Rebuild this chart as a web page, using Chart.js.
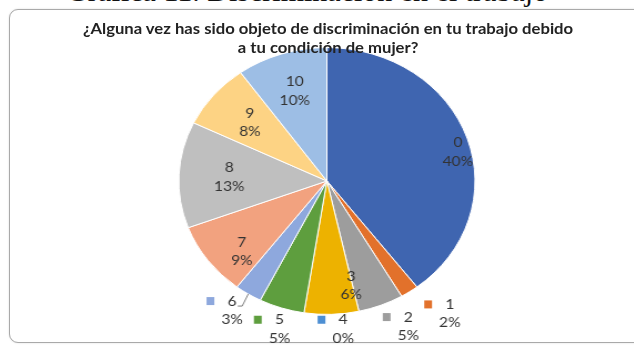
<!DOCTYPE html>
<html lang="es">
<head>
<meta charset="utf-8">
<title>Discriminación en el trabajo</title>
<script src="https://cdn.jsdelivr.net/npm/chart.js@4.4.1/dist/chart.umd.min.js"></script>
<style>
  html, body { margin: 0; padding: 0; background: #fff; overflow: hidden; }
  body { width: 634px; height: 345px; position: relative; }
  #heading {
    position: absolute; left: 66px; top: -24.5px;
    font: 30px "Liberation Serif", serif; line-height: 30px; color: #111;
    white-space: nowrap;
  }
  #frame {
    position: absolute; left: 9px; top: 9px; right: -20px; bottom: 2px;
    border: 1px solid #a9a9a9; border-radius: 9px;
    box-shadow: 0 0 2px rgba(0,0,0,0.15);
    background: #fff;
  }
  /* the whole chart is drawn a bit wider than tall */
  #stage {
    position: absolute; left: 0; top: 0; height: 345px;
    transform: scaleX(1.11); transform-origin: 0 0;
  }
  #stage canvas { position: absolute; left: 0; top: 0; }
  #title {
    position: absolute; left: 20px; right: 0; top: 19px; z-index: 2;
    font: bold 15px Lato, sans-serif; line-height: 19px; color: #222;
    text-align: center; white-space: nowrap;
  }
</style>
</head>
<body>
<div id="heading">Gráfica 11. Discriminación en el trabajo</div>
<div id="frame"></div>
<div id="stage">
  <canvas id="pieChart"></canvas>
  <div id="title">¿Alguna vez has sido objeto de discriminación en tu trabajo debido<br>a tu condición de mujer?</div>
</div>
<script>
const categories = ['0', '1', '2', '3', '4', '5', '6', '7', '8', '9', '10'];
const shares = [40, 2, 5, 6, 0, 5, 3, 9, 13, 8, 10];
const sliceColors = ['#3F65B0', '#E2712B', '#9D9D9D', '#EDB200', '#4D8FD3', '#5E9E3E',
                     '#8EA8DD', '#F2A27F', '#BFBFBF', '#FDD384', '#9DBEE5'];

const stretch = 1.11;
const stageWidth = 634 / stretch;

// labels drawn inside their slice: distance from centre (fraction of radius)
// and a small turn away from the slice middle, in degrees
const insideRadius = { '0': 0.91, '3': 0.8, '7': 0.78, '8': 0.66, '9': 0.68, '10': 0.71 };
const insideTurn = { '0': 5, '3': -10, '7': -6 };
// labels pushed below the pie: first-line anchor relative to centre, in radii
const outsideAnchor = {
  '1': [0.83, 0.925],
  '2': [0.55, 1.02],
  '4': [0.11, 1.04],
  '5': [-0.32, 1.04],
  '6': [-0.64, 0.9]
};
const withLeader = ['6'];

const stage = document.getElementById('stage');
stage.style.width = stageWidth + 'px';
const canvas = document.getElementById('pieChart');
canvas.width = stageWidth;
canvas.height = 345;
canvas.style.width = stageWidth + 'px';
canvas.style.height = '345px';

const sliceLabels = {
  id: 'sliceLabels',
  afterDatasetsDraw(chart) {
    const ctx = chart.ctx;
    const meta = chart.getDatasetMeta(0);
    const lineGap = 18.5;
    ctx.save();
    ctx.font = '14px Lato, sans-serif';
    ctx.textAlign = 'center';
    ctx.textBaseline = 'middle';
    meta.data.forEach((arc, i) => {
      const p = arc.getProps(['x', 'y', 'startAngle', 'endAngle', 'outerRadius'], true);
      const mid = (p.startAngle + p.endAngle) / 2;
      const r = p.outerRadius;
      const cat = categories[i];
      const first = cat;
      const second = shares[i] + '%';
      let lx, ly;
      if (outsideAnchor[cat]) {
        lx = p.x + outsideAnchor[cat][0] * r;
        ly = p.y + outsideAnchor[cat][1] * r;
      } else {
        const f = insideRadius[cat] || 0.7;
        const a = mid + (insideTurn[cat] || 0) * Math.PI / 180;
        lx = p.x + Math.cos(a) * f * r;
        ly = p.y + Math.sin(a) * f * r - lineGap / 2;
      }
      ctx.fillStyle = '#333333';
      ctx.fillText(first, lx, ly);
      ctx.fillText(second, lx, ly + lineGap);

      if (outsideAnchor[cat]) {
        const w = ctx.measureText(first).width;
        ctx.fillStyle = sliceColors[i];
        ctx.fillRect(lx - w / 2 - 19, ly - 4, 7, 8);
        if (withLeader.includes(cat)) {
          const ex = p.x + Math.cos(mid) * r;
          const ey = p.y + Math.sin(mid) * r;
          ctx.strokeStyle = '#7f7f7f';
          ctx.lineWidth = 1;
          ctx.beginPath();
          ctx.moveTo(lx + w / 2 + 1, ly + 5);
          ctx.lineTo(lx + w / 2 + 5, ly + 5);
          ctx.lineTo(ex, ey);
          ctx.stroke();
        }
      }
    });
    ctx.restore();
  }
};

// pie centre and radius follow from the padding around the chart area
const cx = 327 / stretch, cy = 181, radius = 134;

new Chart(canvas, {
  type: 'pie',
  data: {
    labels: categories,
    datasets: [{
      data: shares,
      backgroundColor: sliceColors,
      borderColor: '#ffffff',
      borderWidth: 1
    }]
  },
  options: {
    responsive: false,
    animation: false,
    layout: {
      padding: {
        left: cx - radius,
        right: stageWidth - (cx + radius),
        top: cy - radius,
        bottom: 345 - (cy + radius)
      }
    },
    plugins: {
      legend: { display: false },
      tooltip: { enabled: false },
      title: { display: false }
    }
  },
  plugins: [sliceLabels]
});
</script>
</body>
</html>
